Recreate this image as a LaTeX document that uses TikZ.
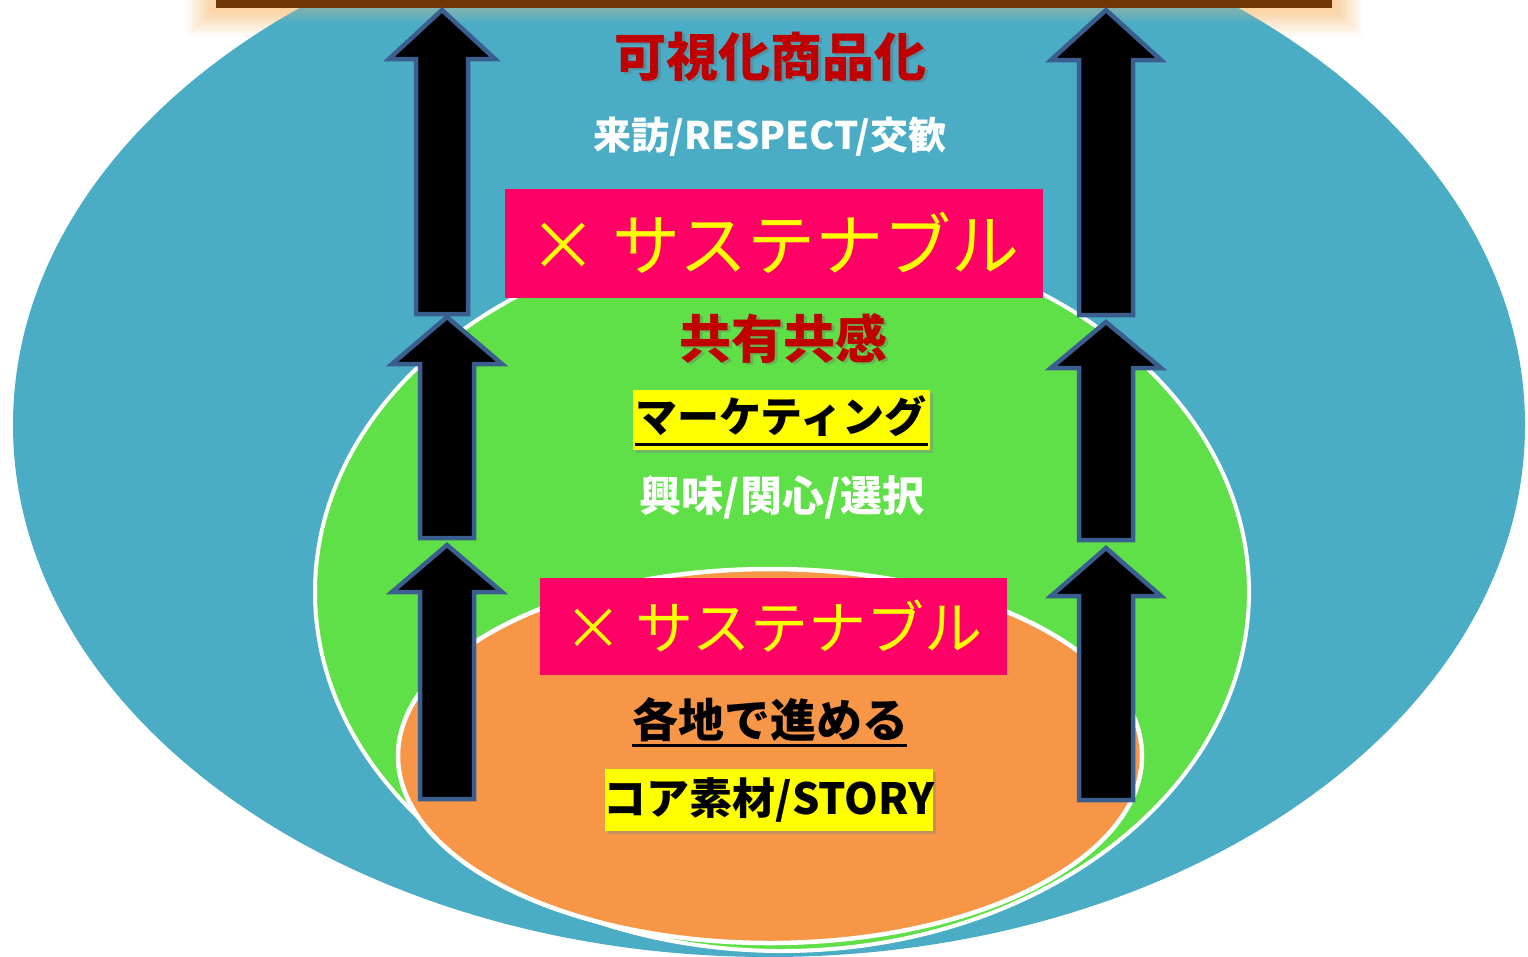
\documentclass[tikz,border=0pt]{standalone}
\usepackage{fontspec}
\newfontfamily\jp{Noto Sans CJK JP}
\definecolor{cblue}{HTML}{4BACC6}
\definecolor{cgreen}{HTML}{60E048}
\definecolor{corange}{HTML}{F79646}
\definecolor{cpink}{HTML}{FF0066}
\definecolor{cred}{HTML}{C00000}
\definecolor{cyel}{HTML}{FFFF00}
\definecolor{cedge}{HTML}{3A5F8E}
\definecolor{cbrown}{HTML}{6E3705}
\definecolor{cglow}{HTML}{FBC88A}
\newcommand{\blockarrow}[6]{% cx, tip, base, bottom, half head, half shaft
  \draw[arrowbox] (#1,#2) -- (#1+#5,#3) -- (#1+#6,#3) -- (#1+#6,#4) -- (#1-#6,#4) -- (#1-#6,#3) -- (#1-#5,#3) -- cycle;}
\tikzset{
  arrowbox/.style={fill=black, draw=cedge, line width=4.5pt, line join=miter},
  redtitle/.style={text=cred, font=\jp\bfseries\fontsize{52}{56}\selectfont, inner sep=0pt},
  whitetext/.style={text=white, font=\jp\bfseries\fontsize{42}{46}\selectfont, inner sep=0pt},
  pinkbox/.style={fill=cpink, text=cyel, inner sep=0pt, font=\jp},
  yelbox/.style={fill=cyel, inner sep=0pt},
  blacktext/.style={text=black, font=\jp\bfseries, inner sep=0pt},
}
\begin{document}
\begin{tikzpicture}[x=1pt,y=-1pt]
\useasboundingbox (0,0) rectangle (1528,956);
\fill[white] (0,0) rectangle (1528,956);
% glow of top bar
\foreach \i in {1,...,12}{
  \fill[cglow, opacity=0.08] (216-2.5*\i,-20) rectangle (1332+2.5*\i,8+2.3*\i);
}
% ellipses
\fill[cblue] (769,425) ellipse [x radius=756, y radius=532];
\foreach \i in {1,...,6}{
  \fill[cglow, opacity=0.06] (216-2.5*\i,-20) rectangle (1332+2.5*\i,8+2.3*\i);
}
\filldraw[fill=cgreen, draw=white, line width=4pt] (782,592) ellipse [x radius=467, y radius=359];
\filldraw[fill=corange, draw=white, line width=4.5pt] (770,756) ellipse [x radius=372, y radius=187];
% top bar
\fill[cbrown] (216,-20) rectangle (1332,8);
% texts
\node[redtitle, text=black!60, opacity=0.35] at (773,59) {可視化商品化};
\node[redtitle] (t1) at (770,57) {可視化商品化};
\node[whitetext, font=\jp\bfseries\fontsize{38}{42}\selectfont] (t2) at (770,137) {来訪/RESPECT/交歓};
\node[pinkbox, minimum width=538pt, minimum height=109pt, font=\jp\fontsize{68}{72}\selectfont] (p1) at (774,243) {× サステナブル};
\node[redtitle, text=black!60, opacity=0.35] at (786,340) {共有共感};
\node[redtitle] (t3) at (783,338) {共有共感};
\fill[black!50, opacity=0.4] (636,393) rectangle (933,453);
\node[yelbox, minimum width=297pt, minimum height=60pt] (y1) at (781.5,420) {};
\node[blacktext, font=\jp\bfseries\fontsize{42}{46}\selectfont] (t4) at (781,416) {マーケティング};
\draw[black, line width=3pt] (635,444) -- (928,444);
\node[whitetext] (t5) at (782,497) {興味/関心/選択};
\node[pinkbox, minimum width=467pt, minimum height=97pt, font=\jp\fontsize{58}{62}\selectfont] (p2) at (773.5,626.5) {× サステナブル};
\node[blacktext, font=\jp\bfseries\fontsize{46}{50}\selectfont] (t6) at (770,720) {各地で進める};
\draw[black, line width=3pt] (632,745) -- (907,745);
\fill[black!50, opacity=0.4] (608,772) rectangle (936,834);
\node[yelbox, minimum width=328pt, minimum height=62pt] (y2) at (769,800) {};
\node[blacktext, font=\jp\bfseries\fontsize{43}{47}\selectfont] (t7) at (769,800) {コア素材/STORY};
% arrows left
\blockarrow{442}{10}{59}{314}{53}{26}
\blockarrow{447}{317}{364}{538}{55}{27}
\blockarrow{447}{545}{592}{799}{55}{27}
% arrows right
\blockarrow{1106}{10}{60}{315}{55}{27}
\blockarrow{1106}{322}{368}{540}{55}{27}
\blockarrow{1106}{548}{596}{800}{55}{27}
\end{tikzpicture}
\end{document}
